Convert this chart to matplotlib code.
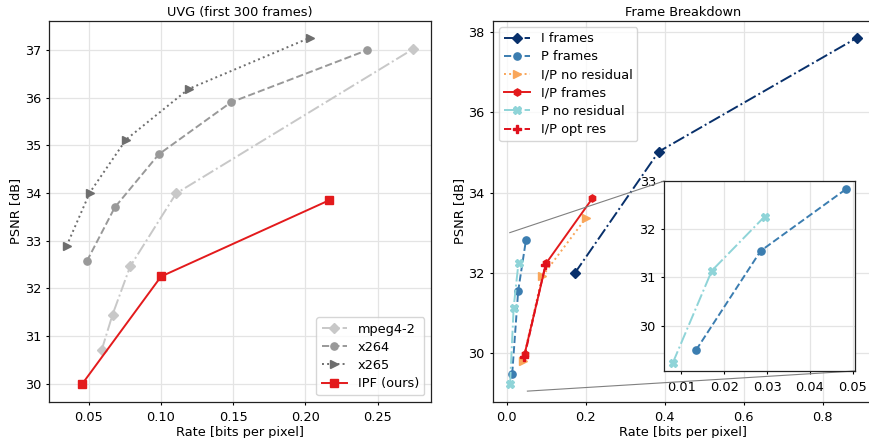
import matplotlib
matplotlib.use('Agg')
import matplotlib.pyplot as plt
from mpl_toolkits.axes_grid1.inset_locator import mark_inset

# UVG comparison (left panel)
rate_mpeg4 = [0.0588, 0.0664, 0.0786, 0.1104, 0.2747]
psnr_mpeg4 = [30.70, 31.45, 32.46, 33.99, 37.02]
rate_x264 = [0.0486, 0.0680, 0.0984, 0.1484, 0.2424]
psnr_x264 = [32.57, 33.70, 34.81, 35.90, 36.99]
rate_x265 = [0.0346, 0.0507, 0.0758, 0.1191, 0.2028]
psnr_x265 = [32.89, 34.01, 35.12, 36.18, 37.25]
rate_ipf = [0.0452, 0.1000, 0.2166]
psnr_ipf = [29.99, 32.25, 33.85]

# frame breakdown (right panel)
rate_i = [0.1715, 0.3845, 0.886]
psnr_i = [31.99, 35.02, 37.85]
rate_p = [0.0134, 0.0285, 0.0484]
psnr_p = [29.49, 31.55, 32.83]
rate_ip_nores = [0.0400, 0.0896, 0.2003]
psnr_ip_nores = [29.80, 31.92, 33.37]
rate_ip = [0.0448, 0.0992, 0.2167]
psnr_ip = [29.98, 32.24, 33.86]
rate_p_nores = [0.0080, 0.0171, 0.0294]
psnr_p_nores = [29.23, 31.14, 32.26]
rate_ip_optres = [0.0445, 0.0975]
psnr_ip_optres = [29.92, 32.20]

plt.rcParams['font.family'] = ['DejaVu Sans']
plt.rcParams['font.size'] = 9.3
plt.rcParams['axes.edgecolor'] = '#222222'
plt.rcParams['axes.linewidth'] = 0.9
plt.rcParams['axes.labelpad'] = 1.5
plt.rcParams['axes.titlepad'] = 3.5
plt.rcParams['grid.color'] = '#e4e4e4'
plt.rcParams['grid.linewidth'] = 0.9
plt.rcParams['xtick.major.size'] = 2.5
plt.rcParams['ytick.major.size'] = 2.5
plt.rcParams['xtick.major.width'] = 0.8
plt.rcParams['ytick.major.width'] = 0.8
plt.rcParams['xtick.major.pad'] = 4.5
plt.rcParams['lines.linewidth'] = 1.4
plt.rcParams['lines.markersize'] = 5.2

fig = plt.figure(figsize=(8.69, 4.38), dpi=100)

ax1 = fig.add_axes([0.0567, 0.083, 0.4389, 0.870])
ax1.plot(rate_mpeg4, psnr_mpeg4, '-.', marker='D', color='#c8c8c8', label='mpeg4-2')
ax1.plot(rate_x264, psnr_x264, '--', marker='o', color='#999999', label='x264')
ax1.plot(rate_x265, psnr_x265, ':', marker='>', color='#6e6e6e', label='x265')
ax1.plot(rate_ipf, psnr_ipf, '-', marker='s', color='#e31a1c', label='IPF (ours)')
ax1.set_xticks([0.05, 0.10, 0.15, 0.20, 0.25])
ax1.set_xticklabels(['0.05', '0.10', '0.15', '0.20', '0.25'])
ax1.set_yticks([30, 31, 32, 33, 34, 35, 36, 37])
ax1.set_xlabel('Rate [bits per pixel]')
ax1.set_ylabel('PSNR [dB]')
ax1.set_title('UVG (first 300 frames)', fontsize=9.3)
ax1.grid(True)
ax1.set_axisbelow(True)
ax1.legend(loc='lower right', fontsize=9.3, labelspacing=0.4)

ax2 = fig.add_axes([0.567, 0.083, 0.4389, 0.870])
ax2.plot(rate_i, psnr_i, '-.', marker='D', color='#08306b', label='I frames')
ax2.plot(rate_p, psnr_p, '--', marker='o', color='#3b7db0', label='P frames')
ax2.plot(rate_ip_nores, psnr_ip_nores, ':', marker='>', color='#f9a65a', label='I/P no residual')
ax2.plot(rate_ip, psnr_ip, '-', marker='h', color='#e31a1c', label='I/P frames')
ax2.plot(rate_p_nores, psnr_p_nores, '-.', marker='X', color='#8fd4d8', label='P no residual')
ax2.plot(rate_ip_optres, psnr_ip_optres, '--', marker='P', color='#e0101c', label='I/P opt res')
ax2.set_xticks([0.0, 0.2, 0.4, 0.6, 0.8])
ax2.set_yticks([30, 32, 34, 36, 38])
ax2.set_xlabel('Rate [bits per pixel]')
ax2.set_ylabel('PSNR [dB]')
ax2.set_title('Frame Breakdown', fontsize=9.3)
ax2.grid(True)
ax2.set_axisbelow(True)
ax2.legend(loc='upper left', fontsize=9.3, labelspacing=0.4)

# zoomed view on the P frame curves
axins = fig.add_axes([0.7644, 0.153, 0.2194, 0.4338])
axins.plot(rate_p, psnr_p, '--', marker='o', color='#3b7db0')
axins.plot(rate_p_nores, psnr_p_nores, '-.', marker='X', color='#8fd4d8')
axins.set_xlim(0.006, 0.0505)
axins.set_ylim(29.06, 33.0)
axins.set_xticks([0.01, 0.02, 0.03, 0.04, 0.05])
axins.set_yticks([30, 31, 32, 33])
axins.grid(True)
axins.set_axisbelow(True)
pp, p1, p2 = mark_inset(ax2, axins, loc1=2, loc2=4, fc='none', ec='0.5', lw=0.8)
pp.set_visible(False)

plt.savefig('out.png', dpi=100)
plt.close(fig)
